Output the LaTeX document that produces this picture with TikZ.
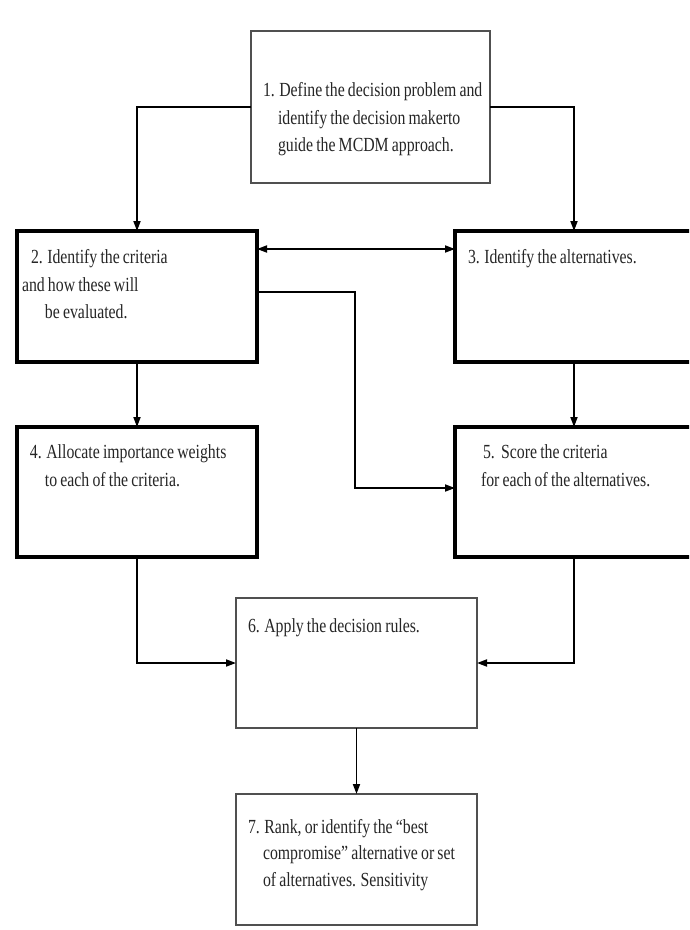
\documentclass[tikz,border=0pt]{standalone}
\usepackage{fontspec}
\setmainfont{Liberation Serif}[FakeStretch=0.79,WordSpace=0.8]
\usetikzlibrary{arrows.meta,calc}
\definecolor{txt}{HTML}{262626}
\definecolor{thinline}{HTML}{505050}
\begin{document}
\begin{tikzpicture}[x=1pt,y=-1pt,
  boxbase/.style={rectangle, inner sep=0pt, outer sep=0pt, anchor=north west, fill=white},
  thickbox/.style={boxbase, draw=black, line width=3.4pt},
  thinbox/.style={boxbase, draw=thinline, line width=2.2pt},
  lbl/.style={anchor=base west, inner sep=0pt, outer sep=0pt, text=txt, font=\fontsize{20}{27}\selectfont},
  arr/.style={draw=black, line width=1.8pt, -{Triangle[length=10pt,width=7pt]}},
  dblarr/.style={draw=black, line width=1.8pt, {Triangle[length=10pt,width=7pt]}-{Triangle[length=10pt,width=7pt]}}]
\useasboundingbox (0,0) rectangle (689,930);
\clip (0,0) rectangle (689,930);
\fill[white] (0,0) rectangle (689,930);

% boxes
\node[thinbox, minimum width=239pt, minimum height=152pt] (b1) at (251,31) {};
\node[thickbox, minimum width=240pt, minimum height=131pt] (b2) at (17,231) {};
\node[thickbox, minimum width=238pt, minimum height=131pt] (b3) at (455,231) {};
\node[thickbox, minimum width=240pt, minimum height=130pt] (b4) at (17,427) {};
\node[thickbox, minimum width=238pt, minimum height=130pt] (b5) at (455,427) {};
\node[thinbox, minimum width=241pt, minimum height=130pt] (b6) at (236,598) {};
\node[thinbox, minimum width=241pt, minimum height=131pt] (b7) at (236,794) {};

% texts
\node[lbl] (t1a) at (263,96) {1. Define the decision problem and};
\node[lbl] (t1b) at (278,124) {identify the decision makerto};
\node[lbl] (t1c) at (278,151) {guide the MCDM approach.};
\node[lbl] (t2a) at (31,263) {2. Identify the criteria};
\node[lbl] (t2b) at (22,291) {and how these will};
\node[lbl] (t2c) at (45,318) {be evaluated.};
\node[lbl] (t3a) at (468,263) {3. Identify the alternatives.};
\node[lbl] (t4a) at (30,458) {4. Allocate importance weights};
\node[lbl] (t4b) at (45,486) {to each of the criteria.};
\node[lbl] (t5a) at (483,458) {5.\ \ Score the criteria};
\node[lbl] (t5b) at (481,486) {for each of the alternatives.};
\node[lbl] (t6a) at (248,632) {6. Apply the decision rules.};
\node[lbl] (t7a) at (248,833) {7. Rank, or identify the “best};
\node[lbl] (t7b) at (263,859) {compromise” alternative or set};
\node[lbl] (t7c) at (263,886) {of alternatives. Sensitivity};

% connectors
\draw[arr] (b1.west) -| (b2.north);
\draw[arr] (b1.east) -| (b3.north);
\draw[dblarr] ($(b2.north east)+(0,18)$) -- ($(b3.north west)+(0,18)$);
\coordinate (b2out) at ($(b2.north east)+(0,61)$);
\coordinate (b5in) at ($(b5.north west)+(0,61)$);
\coordinate (mid) at (355,0);
\draw[arr] (b2out) -- (b2out -| mid) -- (b5in -| mid) -- (b5in);
\draw[arr] (b2.south) -- (b4.north);
\draw[arr] (b3.south) -- (b5.north);
\draw[arr] (b4.south) |- (b6.west);
\draw[arr] (b5.south) |- (b6.east);
\draw[arr] (b6.south) -- (b7.north);
\end{tikzpicture}
\end{document}
